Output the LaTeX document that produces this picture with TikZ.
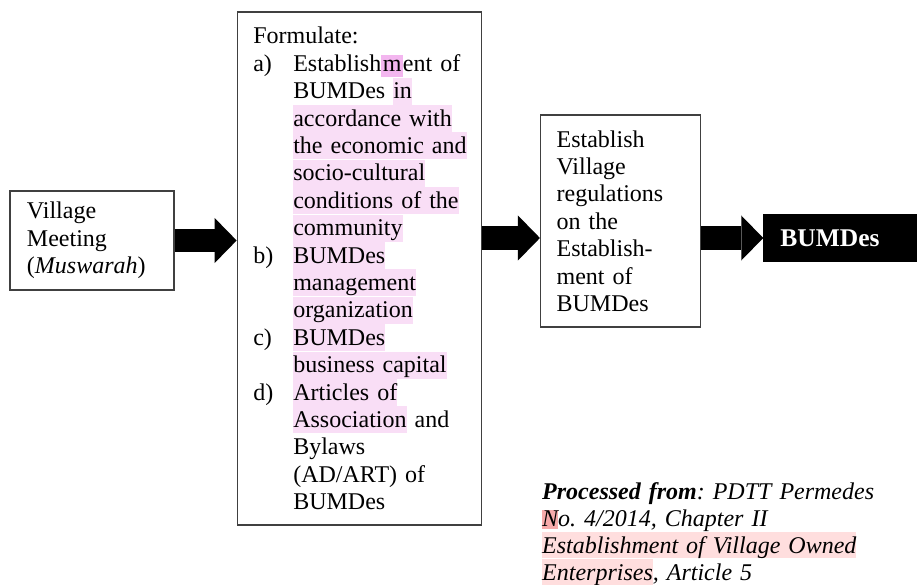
\documentclass[tikz,border=0pt]{standalone}
\usepackage{fontspec}
\setmainfont{Liberation Serif}
\usetikzlibrary{arrows.meta,positioning}

\definecolor{hlpink}{HTML}{F9DEF6}
\definecolor{hlmark}{HTML}{F3B6EF}
\definecolor{hlred}{HTML}{FFDEDE}
\definecolor{hlredmark}{HTML}{F7AAAA}
\newcommand{\hlp}[1]{{\setlength{\fboxsep}{0pt}\colorbox{hlpink}{\rule[-6pt]{0pt}{27pt}#1}}}
\newcommand{\hlm}[1]{{\setlength{\fboxsep}{1.5pt}\colorbox{hlmark}{\rule[-4pt]{0pt}{19pt}#1}}}
\newcommand{\hlr}[1]{{\setlength{\fboxsep}{0pt}\colorbox{hlred}{\rule[-5pt]{0pt}{26pt}#1}}}
\newcommand{\hlrm}[1]{{\setlength{\fboxsep}{0pt}\colorbox{hlredmark}{\rule[-3pt]{0pt}{19pt}#1}}}
\newcommand{\itemlbl}[1]{\makebox[40pt][l]{#1}}
\newcommand{\itemind}{\hspace*{40pt}}
\frenchspacing

\begin{document}
\begin{tikzpicture}[x=1pt, y=-1pt,
    box/.style={draw=black!75, line width=1.3pt, align=left,
        font={\fontsize{24pt}{27.4pt}\selectfont}, inner xsep=17pt, inner ysep=0pt},
    goal/.style={fill=black, text=white, align=left, text width=131pt,
        inner xsep=17pt, minimum height=48pt,
        font={\fontsize{25.5pt}{28pt}\selectfont\bfseries}},
    source/.style={align=left, text width=370pt, inner sep=0pt,
        font={\fontsize{24pt}{27pt}\selectfont\itshape}},
    push/.style={line width=23pt, -{Triangle[length=22pt,width=45pt,line width=0pt]}}
]
\useasboundingbox (0,0) rectangle (917,585);
\node[box, text width=130pt, inner xsep=17pt, minimum height=99pt] (meeting) at (92,240.5)
    {Village\\Meeting\\(\textit{Muswarah})};
\node[box, text width=212pt, inner xsep=16pt, minimum height=513pt, right=62pt of meeting, yshift=-28pt] (formulate) {%
    Formulate:\\
    \itemlbl{a)}Establish\hlm{m}ent of\\
    \itemind BUMDes \hlp{in}\\
    \itemind\hlp{accordance with}\\
    \itemind\hlp{the economic and}\\
    \itemind\hlp{socio-cultural}\\
    \itemind\hlp{conditions of the}\\
    \itemind\hlp{community}\\
    \itemlbl{b)}\hlp{BUMDes}\\
    \itemind\hlp{management}\\
    \itemind\hlp{organization}\\
    \itemlbl{c)}\hlp{BUMDes}\\
    \itemind\hlp{business capital}\\
    \itemlbl{d)}\hlp{Articles of}\\
    \itemind\hlp{Association} and\\
    \itemind Bylaws\\
    \itemind (AD/ART) of\\
    \itemind BUMDes};
\node[box, text width=128pt, inner xsep=16pt, minimum height=212pt, right=58pt of formulate, yshift=47.5pt] (regulation)
    {Establish\\Village\\regulations\\on the\\Establish-\\ment of\\BUMDes};
\node[goal, right=62pt of regulation, yshift=-17pt] (bumdes) {BUMDes};
\draw[push] (meeting.east) -- (meeting.east -| formulate.west);
\draw[push] (formulate.east |- bumdes.west) -- (regulation.west |- bumdes.west);
\draw[push] (regulation.east |- bumdes.west) -- (bumdes.west);
\node[source, anchor=base west] (origin) at (542,499) {%
    \textbf{Processed from}: PDTT Permedes\\
    \hlrm{N}o. 4/2014, Chapter II\\
    \hlr{Establishment of Village Owned}\\
    \hlr{Enterprises}, Article 5};
\end{tikzpicture}
\end{document}
